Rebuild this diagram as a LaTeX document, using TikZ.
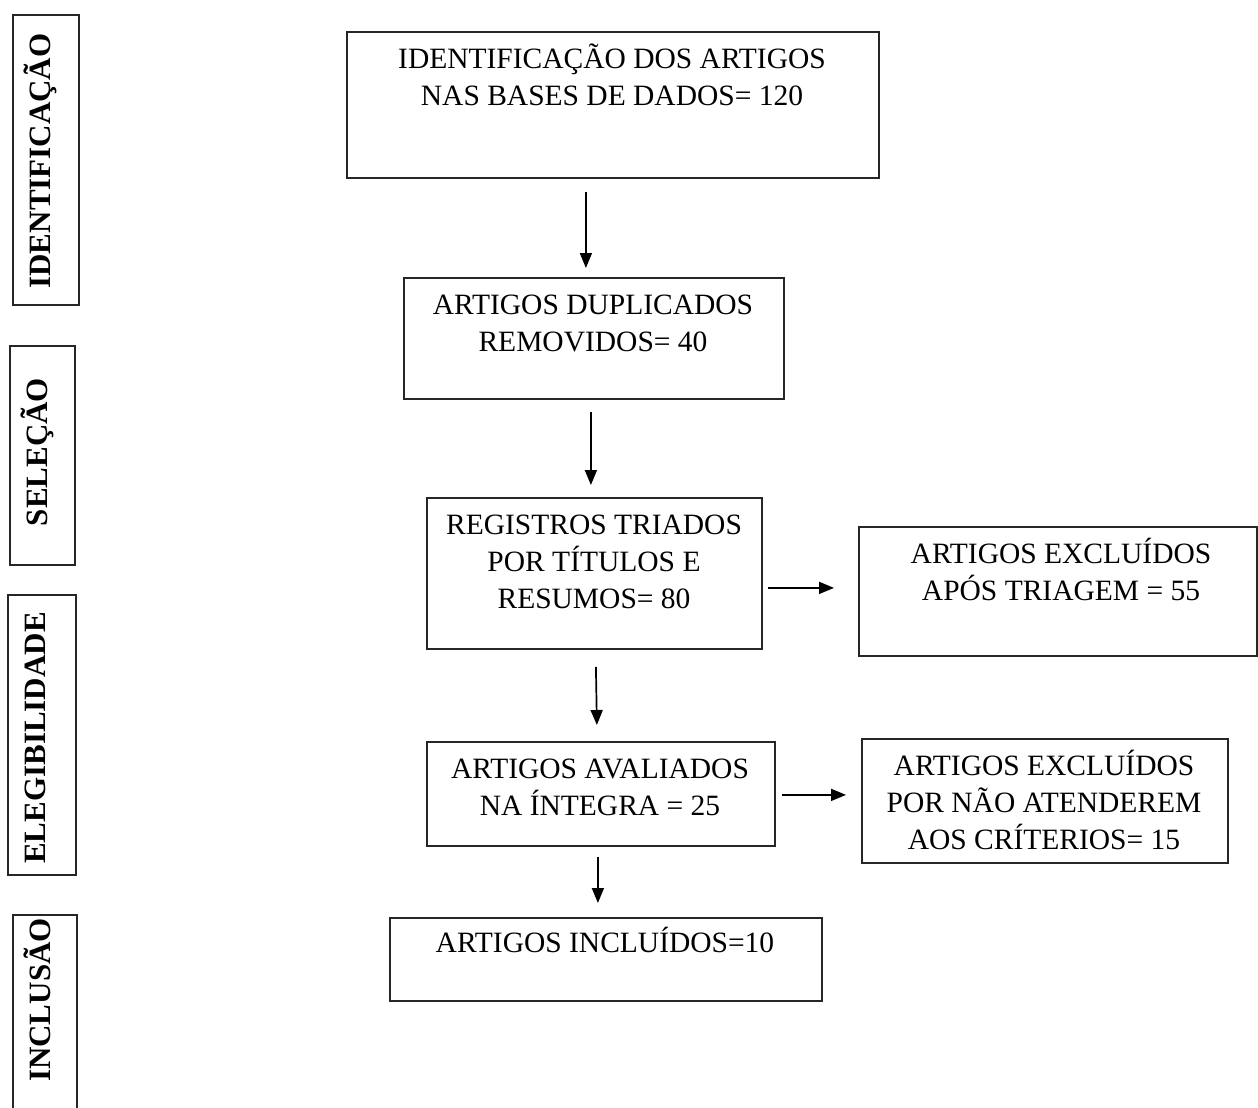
\documentclass[tikz,border=0pt]{standalone}
\usepackage{fontspec}
\setmainfont{Liberation Serif}
\usetikzlibrary{arrows.meta,calc}
\newcommand{\fst}{\rule{0pt}{26pt}}
\tikzset{
  box/.style={draw=black!85, line width=1.8pt, anchor=north west, inner sep=0pt},
  lbox/.style={draw=black!85, line width=1.8pt, anchor=north west, inner sep=0pt},
  txt/.style={anchor=north, inner sep=0pt, align=center, font=\fontsize{29.5}{37}\selectfont},
  lbl/.style={anchor=base, rotate=90, inner sep=0pt, font=\fontsize{31}{36}\selectfont\bfseries},
  arr/.style={line width=1.7pt, -{Triangle[length=15pt,width=12pt]}}
}
\begin{document}
\begin{tikzpicture}[x=1pt,y=-1pt]
\useasboundingbox (0,0) rectangle (1258,1108);
\clip (0,0) rectangle (1258,1108);
% side labels
\node[lbox, minimum width=66pt, minimum height=290pt] (l1) at (12,14) {};
\node[lbl] (l1t) at (50,161) {IDENTIFICAÇÃO};
\node[lbox, minimum width=65pt, minimum height=219pt] (l2) at (9,345) {};
\node[lbl] (l2t) at (47,452) {SELEÇÃO};
\node[lbox, minimum width=68pt, minimum height=280pt] (l3) at (7,594) {};
\node[lbl] (l3t) at (45,738) {ELEGIBILIDADE};
\node[lbox, minimum width=64pt, minimum height=220pt] (l4) at (12,914) {};
\node[lbl] (l4t) at (50,1000) {INCLUSÃO};
% main boxes
\node[box, minimum width=532pt, minimum height=146pt] (b1) at (346,31) {};
\node[txt] (t1) at (612,42) {\fst IDENTIFICAÇÃO DOS ARTIGOS\\NAS BASES DE DADOS= 120};
\node[box, minimum width=380pt, minimum height=121pt] (b2) at (403,277) {};
\node[txt] (t2) at (593,288) {\fst ARTIGOS DUPLICADOS\\REMOVIDOS= 40};
\node[box, minimum width=335pt, minimum height=151pt] (b3) at (426,497) {};
\node[txt] (t3) at (594,508) {\fst REGISTROS TRIADOS\\POR TÍTULOS E\\RESUMOS= 80};
\node[box, minimum width=398pt, minimum height=129pt] (b4) at (858,526) {};
\node[txt] (t4) at (1061,537) {\fst ARTIGOS EXCLUÍDOS\\APÓS TRIAGEM = 55};
\node[box, minimum width=348pt, minimum height=104pt] (b5) at (426,741) {};
\node[txt] (t5) at (600,752) {\fst ARTIGOS AVALIADOS\\NA ÍNTEGRA = 25};
\node[box, minimum width=366pt, minimum height=124pt] (b6) at (861,738) {};
\node[txt] (t6) at (1044,749) {\fst ARTIGOS EXCLUÍDOS\\POR NÃO ATENDEREM\\AOS CRÍTERIOS= 15};
\node[box, minimum width=432pt, minimum height=83pt] (b7) at (389,917) {};
\node[txt] (t7) at (605,926) {\fst ARTIGOS INCLUÍDOS=10};
% arrows
\draw[arr] ($(b1.south)+(-27,13)$) -- ($(b2.north)+(-8,-9)$);
\draw[arr] ($(b2.south)+(-3,12)$) -- ($(b3.north)+(-3.5,-12)$);
\draw[arr] ($(b3.south)+(1.5,17)$) -- ($(b5.north)+(-4,-16)$);
\draw[arr] ($(b5.south)+(-3,10)$) -- ($(b7.north)+(-8,-14)$);
\draw[arr] ($(b3.east)+(5,14.5)$) -- ($(b4.west)+(-24,-3.5)$);
\draw[arr] ($(b5.east)+(6,1)$) -- ($(b6.west)+(-15,-6)$);
\end{tikzpicture}
\end{document}
